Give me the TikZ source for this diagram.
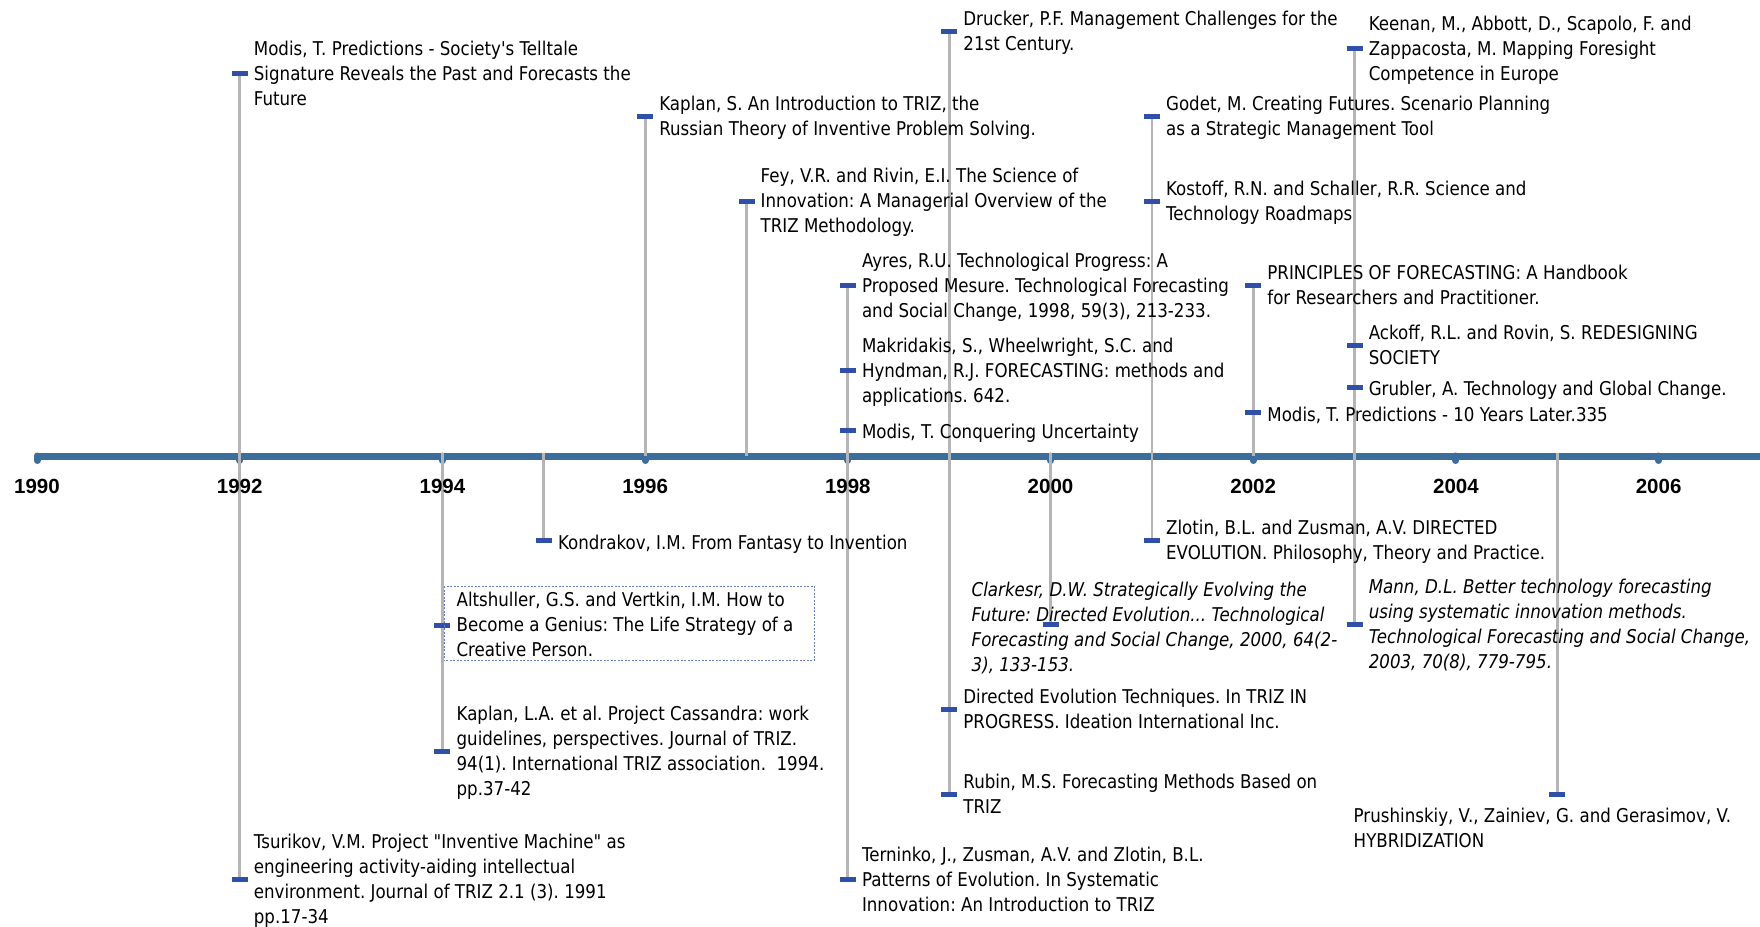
\documentclass[tikz,border=0pt]{standalone}
\usepackage{fontspec}
\newfontfamily\reffont[Ligatures=TeXOff,FakeStretch=0.877]{DejaVu Sans}
\newfontfamily\yearfont{Liberation Sans}
\definecolor{axisblue}{RGB}{59,110,157}
\definecolor{markblue}{RGB}{47,79,168}
\definecolor{stemgray}{RGB}{181,181,181}
\definecolor{boxblue}{RGB}{105,128,200}
\pgfdeclarelayer{axislayer}
\pgfdeclarelayer{stemlayer}
\pgfsetlayers{axislayer,stemlayer,main}
\frenchspacing

\begin{document}
\begin{tikzpicture}[x=1pt,y=-1pt,
  axisline/.style={line width=7pt, color=axisblue, line cap=round},
  knob/.style={line width=7pt, color=axisblue, line cap=round},
  stem/.style={line width=2.8pt, color=stemgray},
  marker/.style={rectangle, fill=markblue, minimum width=16pt, minimum height=5pt, inner sep=0pt},
  ref/.style={font=\reffont\fontsize{19}{25}\selectfont\frenchspacing, align=left, inner sep=0pt, anchor=west,
    yshift=-3.3pt, execute at begin node=\strut, execute at end node=\strut},
  refit/.style={ref, font=\reffont\itshape\fontsize{19}{25}\selectfont\frenchspacing},
  year/.style={font=\yearfont\bfseries\fontsize{20.5}{24}\selectfont, inner sep=0pt},
  selbox/.style={draw=boxblue, line width=0.9pt, dash pattern=on 2pt off 1.5pt}
]
\useasboundingbox (0,0) rectangle (1760,926);

% ---- time axis with year knobs ----
\begin{pgfonlayer}{axislayer}
  \draw[axisline] (37.5,456) -- (1775,456);
  \foreach \x in {37,239.7,442.4,645.1,847.8,1050.5,1253.2,1455.9,1658.6}
    \draw[knob] (\x,456) -- (\x,460.5);
\end{pgfonlayer}

% ---- year labels ----
\node[year] (y1990) at (37,486.7)    {1990};
\node[year] (y1992) at (239.7,486.7) {1992};
\node[year] (y1994) at (442.4,486.7) {1994};
\node[year] (y1996) at (645.1,486.7) {1996};
\node[year] (y1998) at (847.8,486.7) {1998};
\node[year] (y2000) at (1050.5,486.7) {2000};
\node[year] (y2002) at (1253.2,486.7) {2002};
\node[year] (y2004) at (1455.9,486.7) {2004};
\node[year] (y2006) at (1658.6,486.7) {2006};

% ---- points where stems meet the axis ----
\coordinate (ax1994) at (442.4,453);
\coordinate (ax1995) at (543.8,453);
\coordinate (ax1996) at (645.1,456);
\coordinate (ax1997) at (746.5,456);
\coordinate (ax2000) at (1050.5,453);
\coordinate (ax2002) at (1253.2,456);
\coordinate (ax2005) at (1557.3,453);

% ---- event markers ----
% above the axis
\node[marker] (m92a) at (239.7,73.7) {};
\node[marker] (m96)  at (645.1,116) {};
\node[marker] (m97)  at (746.5,201) {};
\node[marker] (m99a) at (949.2,31.3) {};
\node[marker] (m98a) at (847.8,285.7) {};
\node[marker] (m98b) at (847.8,370.3) {};
\node[marker] (m98c) at (847.8,430) {};
\node[marker] (m01a) at (1151.9,116) {};
\node[marker] (m01b) at (1151.9,201) {};
\node[marker] (m02a) at (1253.2,285.7) {};
\node[marker] (m02b) at (1253.2,412.7) {};
\node[marker] (m03a) at (1354.6,48.7) {};
\node[marker] (m03b) at (1354.6,345) {};
\node[marker] (m03c) at (1354.6,387.3) {};
% below the axis
\node[marker] (m95)  at (543.8,540.7) {};
\node[marker] (m94a) at (442.4,625) {};
\node[marker] (m94b) at (442.4,751.7) {};
\node[marker] (m92b) at (239.7,879) {};
\node[marker] (m98d) at (847.8,879.3) {};
\node[marker] (m99b) at (949.2,709.3) {};
\node[marker] (m99c) at (949.2,794) {};
\node[marker] (m00)  at (1050.5,624.7) {};
\node[marker] (m01c) at (1151.9,540) {};
\node[marker] (m03d) at (1354.6,624.7) {};
\node[marker] (m05)  at (1557.3,794) {};

% ---- stems ----
\begin{pgfonlayer}{stemlayer}
  \draw[stem] (m92a.center) -- (m92b.center);
  \draw[stem] (ax1994) -- (m94b.center);
  \draw[stem] (ax1995) -- (m95.center);
  \draw[stem] (m96.center) -- (ax1996);
  \draw[stem] (m97.center) -- (ax1997);
  \draw[stem] (m98a.center) -- (m98d.center);
  \draw[stem] (m99a.center) -- (m99c.center);
  \draw[stem] (ax2000) -- (m00.center);
  \draw[stem] (m01a.center) -- (m01c.center);
  \draw[stem] (m02a.center) -- (ax2002);
  \draw[stem] (m03a.center) -- (m03d.center);
  \draw[stem] (ax2005) -- (m05.center);
\end{pgfonlayer}

% ---- references above the axis ----
\node[ref] (t92a) at ([xshift=14pt]m92a.center) {Modis, T. Predictions - Society's Telltale\\Signature Reveals the Past and Forecasts the\\Future};
\node[ref] (t96) at ([xshift=14pt]m96.center) {Kaplan, S. An Introduction to TRIZ, the\\Russian Theory of Inventive Problem Solving.};
\node[ref] (t97) at ([xshift=14pt]m97.center) {Fey, V.R. and Rivin, E.I. The Science of\\Innovation: A Managerial Overview of the\\TRIZ Methodology.};
\node[ref] (t99a) at ([xshift=14pt]m99a.center) {Drucker, P.F. Management Challenges for the\\21st Century.};
\node[ref] (t98a) at ([xshift=14pt]m98a.center) {Ayres, R.U. Technological Progress: A\\Proposed Mesure. Technological Forecasting\\and Social Change, 1998, 59(3), 213-233.};
\node[ref] (t98b) at ([xshift=14pt]m98b.center) {Makridakis, S., Wheelwright, S.C. and\\Hyndman, R.J. FORECASTING: methods and\\applications. 642.};
\node[ref] (t98c) at ([xshift=14pt]m98c.center) {Modis, T. Conquering Uncertainty};
\node[ref] (t01a) at ([xshift=14pt]m01a.center) {Godet, M. Creating Futures. Scenario Planning\\as a Strategic Management Tool};
\node[ref] (t01b) at ([xshift=14pt]m01b.center) {Kostoff, R.N. and Schaller, R.R. Science and\\Technology Roadmaps};
\node[ref] (t02a) at ([xshift=14pt]m02a.center) {PRINCIPLES OF FORECASTING: A Handbook\\for Researchers and Practitioner.};
\node[ref] (t02b) at ([xshift=14pt]m02b.center) {Modis, T. Predictions - 10 Years Later.335};
\node[ref] (t03a) at ([xshift=14pt]m03a.center) {Keenan, M., Abbott, D., Scapolo, F. and\\Zappacosta, M. Mapping Foresight\\Competence in Europe};
\node[ref] (t03b) at ([xshift=14pt]m03b.center) {Ackoff, R.L. and Rovin, S. REDESIGNING\\SOCIETY};
\node[ref] (t03c) at ([xshift=14pt]m03c.center) {Grubler, A. Technology and Global Change.};

% ---- references below the axis ----
\node[ref] (t95) at ([xshift=14pt]m95.center) {Kondrakov, I.M. From Fantasy to Invention};
\node[ref] (t94a) at ([xshift=14pt]m94a.center) {Altshuller, G.S. and Vertkin, I.M. How to\\Become a Genius: The Life Strategy of a\\Creative Person.};
\draw[selbox] (444,586) rectangle (814.3,660.7);
\node[ref] (t94b) at ([xshift=14pt]m94b.center) {Kaplan, L.A. et al. Project Cassandra: work\\guidelines, perspectives. Journal of TRIZ.\\94(1). International TRIZ association.\ \ 1994.\\pp.37-42};
\node[ref] (t92b) at ([xshift=14pt]m92b.center) {Tsurikov, V.M. Project "Inventive Machine" as\\engineering activity-aiding intellectual\\environment. Journal of TRIZ 2.1 (3). 1991\\pp.17-34};
\node[ref] (t98d) at ([xshift=14pt]m98d.center) {Terninko, J., Zusman, A.V. and Zlotin, B.L.\\Patterns of Evolution. In Systematic\\Innovation: An Introduction to TRIZ};
\node[ref] (t99b) at ([xshift=14pt]m99b.center) {Directed Evolution Techniques. In TRIZ IN\\PROGRESS. Ideation International Inc.};
\node[ref] (t99c) at ([xshift=14pt]m99c.center) {Rubin, M.S. Forecasting Methods Based on\\TRIZ};
\node[refit] (t00) at (971.5,627) {Clarkesr, D.W. Strategically Evolving the\\Future: Directed Evolution... Technological\\Forecasting and Social Change, 2000, 64(2-\\3), 133-153.};
\node[ref] (t01c) at ([xshift=14pt]m01c.center) {Zlotin, B.L. and Zusman, A.V. DIRECTED\\EVOLUTION. Philosophy, Theory and Practice.};
\node[refit] (t03d) at ([xshift=14pt]m03d.center) {Mann, D.L. Better technology forecasting\\using systematic innovation methods.\\Technological Forecasting and Social Change,\\2003, 70(8), 779-795.};
\node[ref] (t05) at (1353.5,828) {Prushinskiy, V., Zainiev, G. and Gerasimov, V.\\HYBRIDIZATION};

\end{tikzpicture}
\end{document}
